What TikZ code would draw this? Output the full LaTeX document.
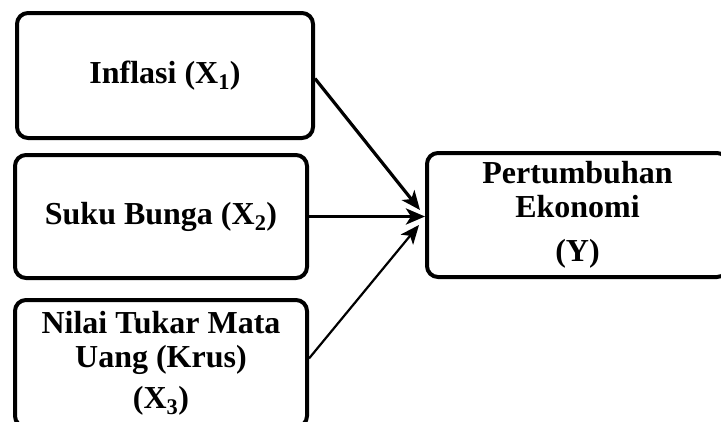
\documentclass[tikz,border=0pt]{standalone}
\usepackage{fontspec}
\setmainfont{Liberation Serif}
\usetikzlibrary{arrows.meta}
\begin{document}
\begin{tikzpicture}[x=1pt,y=-1pt,
  box/.style={draw, line width=4pt, rounded corners=11pt, align=center,
    font=\fontsize{32}{34}\selectfont\bfseries, inner sep=0pt},
  arr/.style={-{Stealth[length=19pt,width=16pt,inset=5pt]}, line width=3.2pt}]
\useasboundingbox (0,0) rectangle (721,421);
\node[box, minimum width=296pt, minimum height=125pt] (b1) at (165,75.5) {Inflasi (X\textsubscript{1})};
\node[box, minimum width=292pt, minimum height=123pt] (b2) at (161,216.5) {Suku Bunga (X\textsubscript{2})};
\node[box, minimum width=292pt, minimum height=127pt] (b3) at (161,363.5) {Nilai Tukar Mata\\Uang (Krus)\\[7pt](X\textsubscript{3})};
\node[box, minimum width=301pt, minimum height=124pt] (y) at (577.5,215) {Pertumbuhan\\Ekonomi\\[10pt](Y)};
\coordinate (t1) at (420,210);
\coordinate (t2) at (425,216.5);
\coordinate (t3) at (419,225);
\draw[arr] ([yshift=-3pt]b1.east) -- (t1);
\draw[arr, line width=3.8pt] (b2.east) -- (t2);
\draw[arr, line width=2.2pt] ([yshift=5pt]b3.east) -- (t3);
\end{tikzpicture}
\end{document}
